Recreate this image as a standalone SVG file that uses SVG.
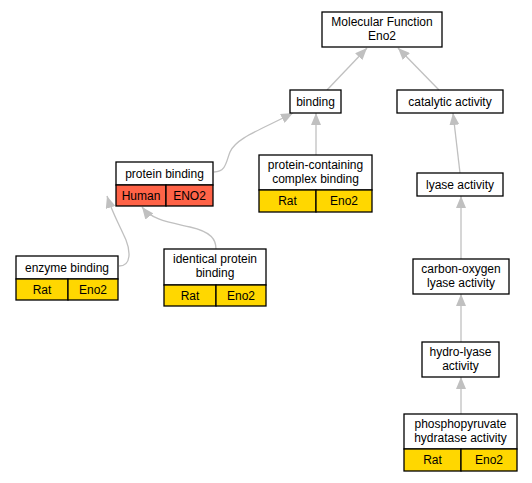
<svg xmlns="http://www.w3.org/2000/svg" width="532" height="483" viewBox="0 0 532 483">
<defs>
<marker id="ah" viewBox="0 0 12 10" refX="12" refY="5" markerWidth="12" markerHeight="10" markerUnits="userSpaceOnUse" orient="auto">
<path d="M0,0 L12,5 L0,10 Z" fill="#c0c0c0"/>
</marker>
</defs>
<style>
.n rect{stroke:#000;stroke-width:1.3}
.w{fill:#fff}
.y{fill:#ffd700}
.r{fill:#ff6347}
text{font-family:"Liberation Sans",Arial,sans-serif;font-size:12px;text-anchor:middle;fill:#000}
.e{fill:none;stroke:#c0c0c0;stroke-width:1.3;marker-end:url(#ah)}
</style>
<rect width="532" height="483" fill="#fff"/>
<g id="edges">
<path class="e" d="M327,90 L367,48"/>
<path class="e" d="M439,90 L398,48"/>
<path class="e" d="M316,155 L316,113"/>
<path class="e" d="M460,173 L453,113"/>
<path class="e" d="M214,172 C226,172 226,162 230,152 C236,138 260,130 293,113"/>
<path class="e" d="M119,266 C132,266 130,250 126,240 C118,222 112,212 107,196"/>
<path class="e" d="M216,249 C216,240 212,232 190,227 C168,222 152,220 142,207"/>
<path class="e" d="M461,259 L461,196"/>
<path class="e" d="M461,342 L461,294"/>
<path class="e" d="M461,414 L461,377"/>
</g>
<g id="mf" class="n">
<rect class="w" x="322" y="12" width="120" height="35"/>
<text x="382" y="26">Molecular Function</text>
<text x="382" y="40">Eno2</text>
</g>
<g id="binding" class="n">
<rect class="w" x="290" y="90" width="51" height="23"/>
<text x="315.5" y="106">binding</text>
</g>
<g id="catalytic" class="n">
<rect class="w" x="397" y="90" width="106" height="23"/>
<text x="450" y="106">catalytic activity</text>
</g>
<g id="protein_binding" class="n">
<rect class="w" x="116" y="162" width="97" height="23"/>
<text x="164.5" y="178">protein binding</text>
<rect class="r" x="116" y="185" width="50" height="21"/>
<rect class="r" x="166" y="185" width="47" height="21"/>
<text x="141" y="200">Human</text>
<text x="189.5" y="200">ENO2</text>
</g>
<g id="pcc_binding" class="n">
<rect class="w" x="259" y="155" width="113" height="35"/>
<text x="315.5" y="169">protein-containing</text>
<text x="315.5" y="183">complex binding</text>
<rect class="y" x="259" y="190" width="57" height="22"/>
<rect class="y" x="316" y="190" width="56" height="22"/>
<text x="287.5" y="205">Rat</text>
<text x="344" y="205">Eno2</text>
</g>
<g id="lyase" class="n">
<rect class="w" x="417" y="173" width="86" height="23"/>
<text x="460" y="189">lyase activity</text>
</g>
<g id="enzyme_binding" class="n">
<rect class="w" x="16" y="256" width="102" height="23"/>
<text x="67" y="272">enzyme binding</text>
<rect class="y" x="16" y="279" width="52" height="21"/>
<rect class="y" x="68" y="279" width="50" height="21"/>
<text x="42" y="294">Rat</text>
<text x="93" y="294">Eno2</text>
</g>
<g id="identical_binding" class="n">
<rect class="w" x="164" y="249" width="102" height="36"/>
<text x="215" y="263">identical protein</text>
<text x="215" y="277">binding</text>
<rect class="y" x="164" y="285" width="52" height="21"/>
<rect class="y" x="216" y="285" width="50" height="21"/>
<text x="190" y="300">Rat</text>
<text x="241" y="300">Eno2</text>
</g>
<g id="co_lyase" class="n">
<rect class="w" x="413" y="259" width="96" height="35"/>
<text x="461" y="273">carbon-oxygen</text>
<text x="461" y="287">lyase activity</text>
</g>
<g id="hydro_lyase" class="n">
<rect class="w" x="422" y="342" width="77" height="35"/>
<text x="460.5" y="356">hydro-lyase</text>
<text x="460.5" y="370">activity</text>
</g>
<g id="phosphopyruvate" class="n">
<rect class="w" x="404" y="414" width="113" height="35"/>
<text x="460.5" y="428">phosphopyruvate</text>
<text x="460.5" y="442">hydratase activity</text>
<rect class="y" x="404" y="449" width="57" height="22"/>
<rect class="y" x="461" y="449" width="56" height="22"/>
<text x="432.5" y="464">Rat</text>
<text x="489" y="464">Eno2</text>
</g>
</svg>
